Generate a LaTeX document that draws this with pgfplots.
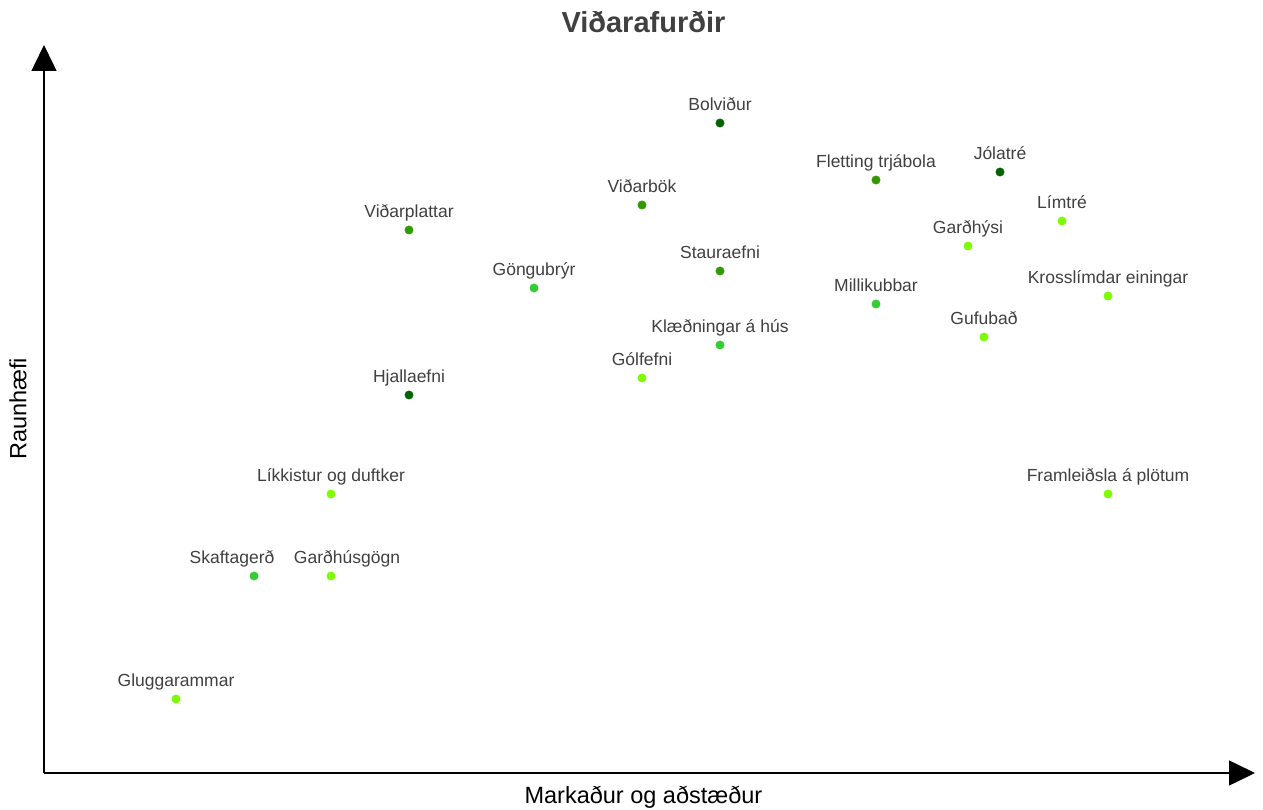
\documentclass[border=0pt]{standalone}
\usepackage{fontspec}
\setmainfont{Liberation Sans}
\usepackage{pgfplots}
\pgfplotsset{compat=1.18}
\usetikzlibrary{arrows.meta}

\definecolor{gdark}{HTML}{006400}
\definecolor{gmid}{HTML}{339900}
\definecolor{glime}{HTML}{32CD32}
\definecolor{glawn}{HTML}{7CFC00}
\definecolor{txt}{HTML}{404040}

\begin{document}
\begin{tikzpicture}
\begin{axis}[
  scale only axis,
  width=1211pt, height=728pt,
  xmin=0, xmax=1211, ymin=0, ymax=728,
  axis lines=left,
  axis line style={line width=1.5pt, -{Triangle[width=25pt,length=26pt]}},
  xtick=\empty, ytick=\empty,
  clip=false,
  title={Viðarafurðir},
  title style={font=\fontsize{29}{34}\selectfont\bfseries, text=txt,
    at={(axis description cs:0.495,1)}, anchor=center, yshift=17pt},
  xlabel={Markaður og aðstæður},
  xlabel style={font=\fontsize{23.5}{27}\selectfont,
    at={(axis description cs:0.495,0)}, anchor=center, yshift=-24pt},
  ylabel={Raunhæfi},
  ylabel style={font=\fontsize{23.5}{27}\selectfont,
    at={(axis description cs:-0.0215,0.5)}, anchor=center},
  nodes near coords,
  point meta=explicit symbolic,
  every node near coord/.style={anchor=base, yshift=12.5pt, inner sep=0pt,
    text=txt, font=\fontsize{17.5}{20}\selectfont},
]
\addplot[only marks, mark=*, mark size=4.2pt, gdark, mark options={draw=none, fill=gdark}]
coordinates {
  (676,650) [Bolviður]
  (956,601) [Jólatré]
  (365,378) [Hjallaefni]
};
\addplot[only marks, mark=*, mark size=4.2pt, gmid, mark options={draw=none, fill=gmid}]
coordinates {
  (832,593) [Fletting trjábola]
  (598,568) [Viðarbök]
  (365,543) [Viðarplattar]
  (676,502) [Stauraefni]
};
\addplot[only marks, mark=*, mark size=4.2pt, glime, mark options={draw=none, fill=glime}]
coordinates {
  (490,485) [Göngubrýr]
  (832,469) [Millikubbar]
  (676,428) [Klæðningar á hús]
};
\addplot[only marks, mark=*, mark size=4.2pt, glime, mark options={draw=none, fill=glime},
  every node near coord/.append style={xshift=-22pt}]
coordinates {
  (210,197) [Skaftagerð]
};
\addplot[only marks, mark=*, mark size=4.2pt, glawn, mark options={draw=none, fill=glawn}]
coordinates {
  (1018,552) [Límtré]
  (924,527) [Garðhýsi]
  (1064,477) [Krosslímdar einingar]
  (940,436) [Gufubað]
  (598,395) [Gólfefni]
  (287,279) [Líkkistur og duftker]
  (1064,279) [Framleiðsla á plötum]
  (132,74) [Gluggarammar]
};
\addplot[only marks, mark=*, mark size=4.2pt, glawn, mark options={draw=none, fill=glawn},
  every node near coord/.append style={xshift=16pt}]
coordinates {
  (287,197) [Garðhúsgögn]
};
\end{axis}
\pgfresetboundingbox
\path (-44pt,-36pt) rectangle (1219pt,773pt);
\end{tikzpicture}
\end{document}
